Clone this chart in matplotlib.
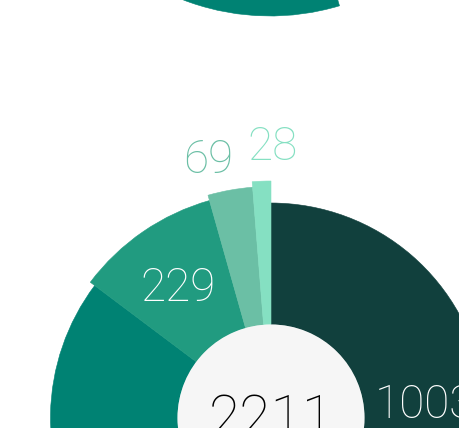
import numpy as np
import matplotlib
matplotlib.use("Agg")
import matplotlib.pyplot as plt
from matplotlib.patches import Wedge, Circle

# slice data, clockwise from 12 o'clock
values = [1003, 882, 229, 69, 28]
colors = ["#11403d", "#008273", "#219b80", "#6bbfa5", "#85e0c2"]
label_colors = ["white", "white", "white", "#6bbfa5", "#85e0c2"]
label_outside = [False, False, False, True, True]
label_nudge = [3.5, 0.0, -1.0, -3.6, 2.6]  # degrees, keeps labels apart
total = sum(values)

plt.rcParams["font.family"] = ["Roboto", "DejaVu Sans"]

W, H = 460, 428
fig = plt.figure(figsize=(W / 100, H / 100), dpi=100)
ax = fig.add_axes([0, 0, 1, 1])
ax.set_xlim(0, W)
ax.set_ylim(0, H)
ax.set_aspect("equal")
ax.axis("off")

r_in = 93.5
r_out0 = 215.0
r_step = 5.5


def draw_rose(cx, cy, scale, labels=True):
    angles = np.cumsum([0] + values) / total * 360.0
    for i, v in enumerate(values):
        a0, a1 = angles[i], angles[i + 1]
        r = (r_out0 + i * r_step) * scale
        w = Wedge((cx, cy), r, 90 - a1, 90 - a0, width=r - r_in * scale,
                  facecolor=colors[i], edgecolor=colors[i], linewidth=0.4)
        ax.add_patch(w)
        if not labels:
            continue
        mid = np.radians((a0 + a1) / 2 + label_nudge[i])
        if label_outside[i]:
            lr = r + 34 * scale
        else:
            lr = (r + r_in * scale) / 2
        ax.text(cx + lr * np.sin(mid), cy + lr * np.cos(mid), str(v),
                color=label_colors[i], fontsize=33, fontweight="light",
                ha="center", va="center")
    ax.add_patch(Circle((cx, cy), r_in * scale, facecolor="#f6f6f6",
                        edgecolor="none"))
    if labels:
        ax.text(cx, cy - 3, str(total), color="black", fontsize=41,
                fontweight="light", ha="center", va="center")


# chart above (only its lower rim shows) and main chart
draw_rose(270, H + 226, 1.0975, labels=False)
draw_rose(271, H - 418, 1.0)

fig.savefig("out.png", dpi=100)
